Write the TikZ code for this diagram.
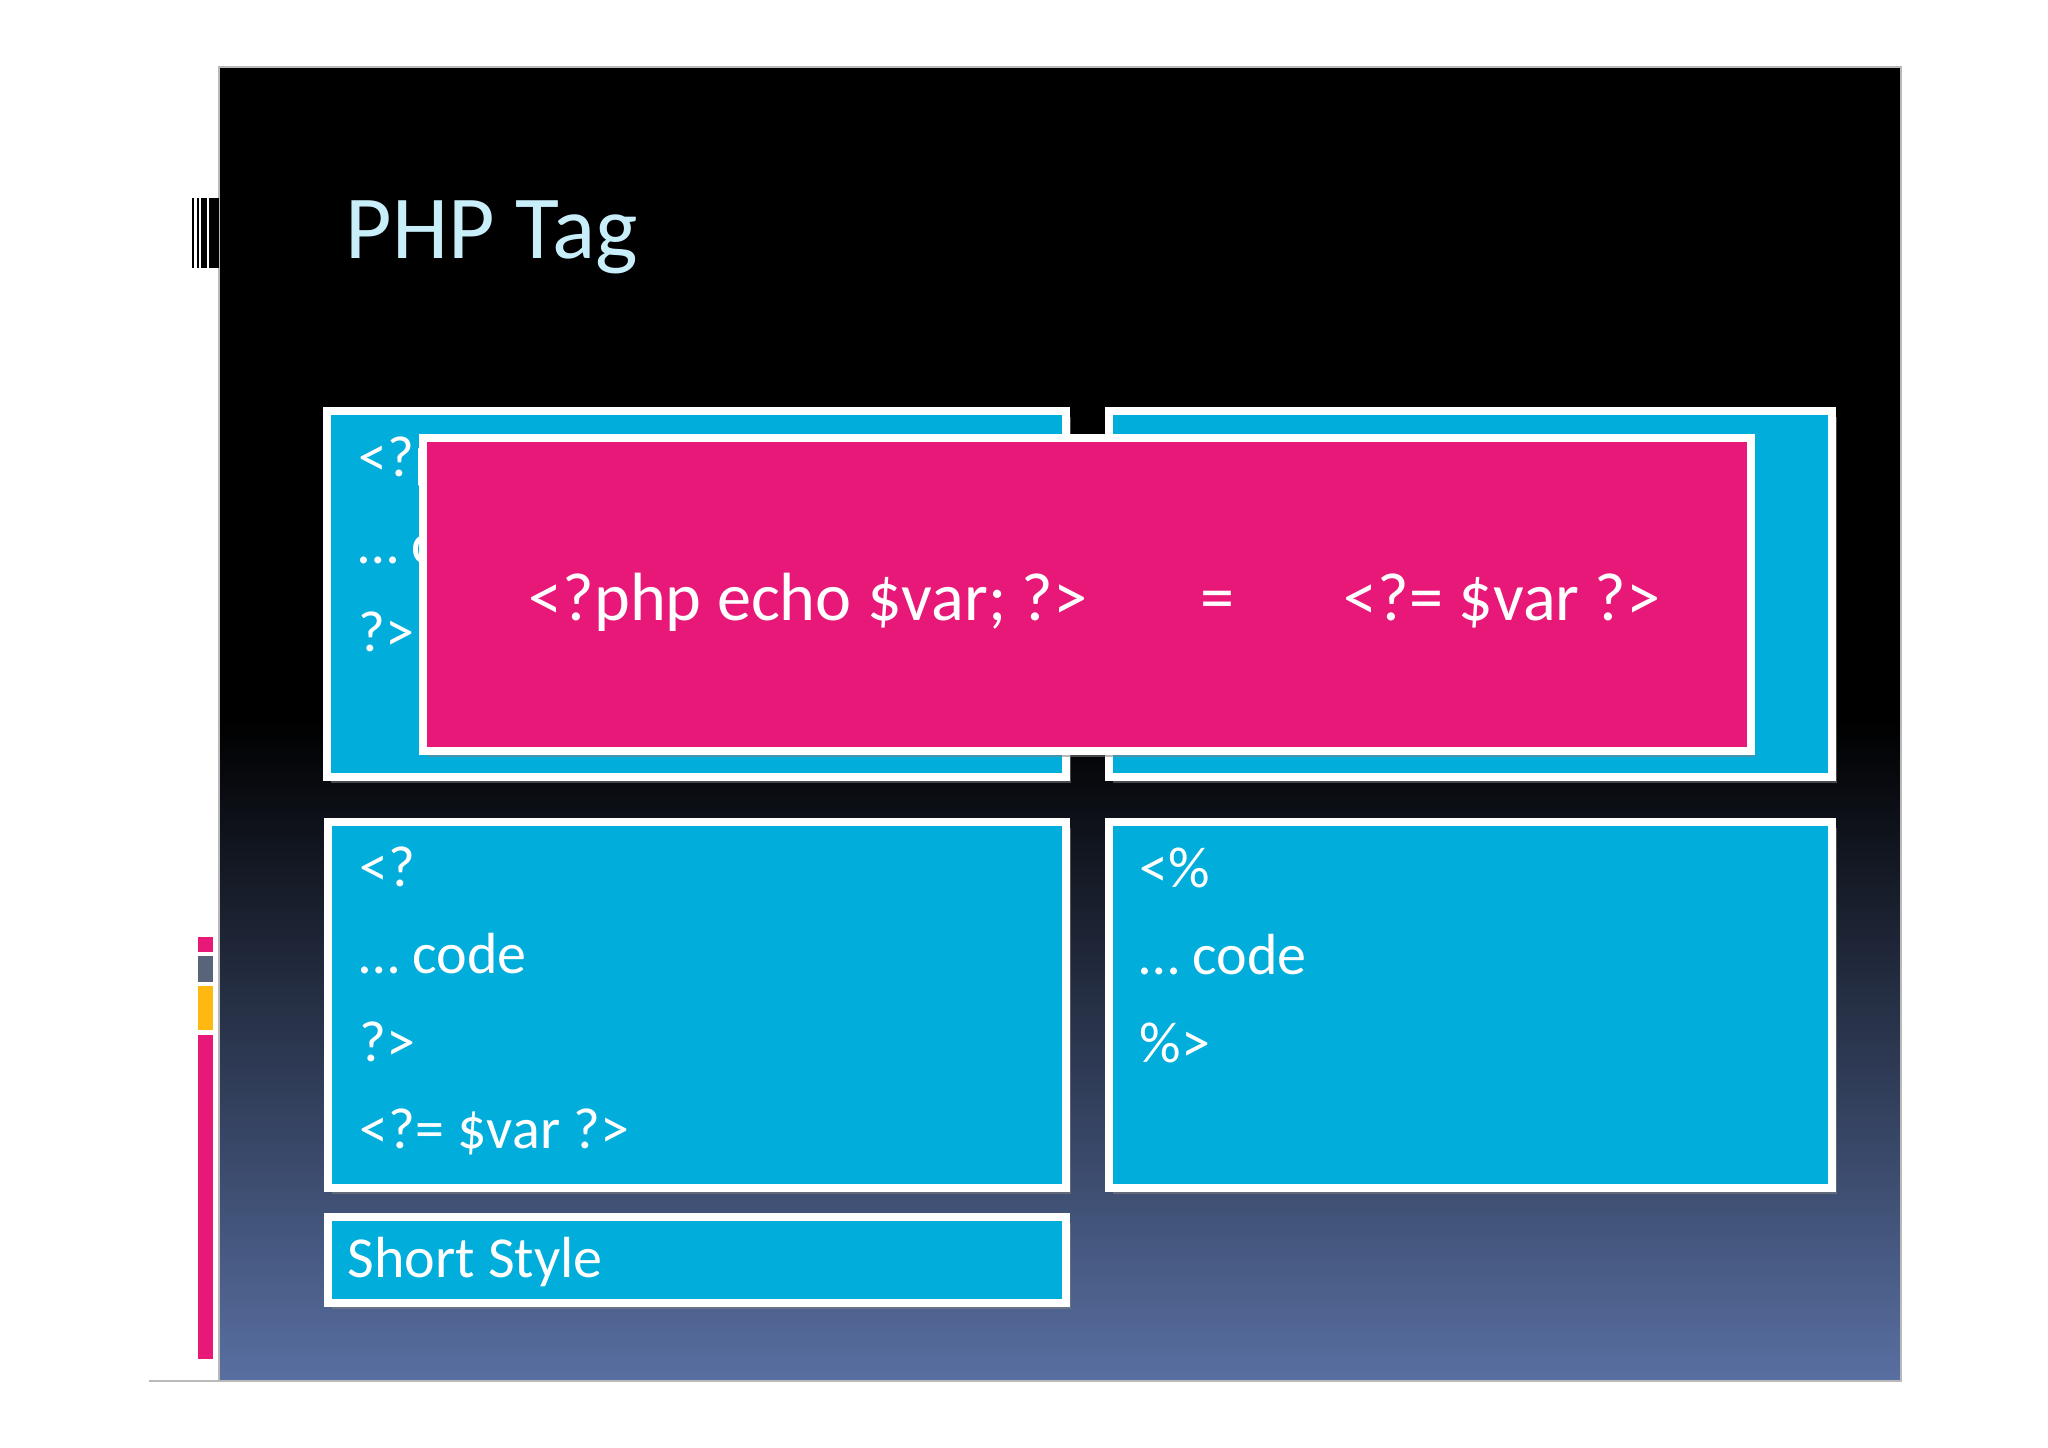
\documentclass[tikz,border=0pt]{standalone}
\usepackage{fontspec}
\setmainfont{Carlito}
\usepackage{xcolor}
\usepackage{tikz}
\usetikzlibrary{positioning,calc,shadows}

\definecolor{slidecyan}{RGB}{0,173,219}
\definecolor{slidepink}{RGB}{232,24,121}
\definecolor{titleblue}{RGB}{200,238,250}
\definecolor{slidebase}{RGB}{88,111,161}
\definecolor{bargold}{RGB}{255,183,18}
\definecolor{bargrey}{RGB}{88,100,122}

\tikzset{
    codebox/.style={draw=white, line width=0.08cm, fill=slidecyan, anchor=north west,
        inner sep=0pt, drop shadow={opacity=0.55, shadow xshift=1.2pt, shadow yshift=-1.6pt}},
    pinkbox/.style={codebox, fill=slidepink},
    codeline/.style={text=white, inner sep=0pt, anchor=base west,
        font=\fontsize{16.5}{20}\selectfont},
    pinkline/.style={codeline, font=\fontsize{19.4}{23}\selectfont}
}

\begin{document}
\begin{tikzpicture}[x=0.01cm, y=-0.01cm]
    \useasboundingbox (0,0) rectangle (2048,1447);

    % Slide background
    \fill[black] (219,67) rectangle (1901,1381);
    \shade[top color=black, bottom color=slidebase] (219,720) rectangle (1901,1381);
    \draw[gray!55, line width=0.5pt] (219,67) rectangle (1901,1381);
    \draw[gray!55, line width=0.5pt] (149,1381) -- (219,1381);

    % Left side marks
    \foreach \a/\b in {192/194, 197/198.7, 200.7/206.7, 209/218.7}
        \fill[black] (\a,198) rectangle (\b,268);
    \fill[slidepink] (198,937) rectangle (213,952);
    \fill[bargrey] (198,956) rectangle (213,982);
    \fill[bargold] (198,986) rectangle (213,1030);
    \fill[slidepink] (198,1035) rectangle (213,1359);

    % Title
    \node[text=titleblue, inner sep=0pt, anchor=base west,
        font=\fontsize{25.6}{30}\selectfont] (title) at (345,258) {PHP Tag};

    % Top boxes
    \node[codebox, minimum width=7.39cm, minimum height=3.66cm] (tl) at (323,407) {};
    \foreach \i/\t in {0/{<?php}, 1/{… code}, 2/{?>}}
        \node[codeline] (tl\i) at ($(tl.north west)+(35,{69+87.5*\i})$) {\t};
    \node[codebox, minimum width=7.23cm, minimum height=3.66cm] (tr) at (1105,407) {};

    % Echo shortcut
    \node[pinkbox, minimum width=13.27cm, minimum height=3.13cm] (echo) at (419,434) {};
    \node[pinkline] (longecho) at ($(echo.north west)+(109,186)$) {<?php echo \$var; ?>};
    \node[pinkline, anchor=base] (eq) at ($(echo.north west)+(798,186)$) {=};
    \node[pinkline] (shortecho) at ($(echo.north west)+(924,186)$) {<?= \$var ?>};

    % Bottom boxes
    \node[codebox, minimum width=7.38cm, minimum height=3.66cm] (bl) at (324,818) {};
    \foreach \i/\t in {0/{<?}, 1/{… code}, 2/{?>}, 3/{<?= \$var ?>}}
        \node[codeline] (bl\i) at ($(bl.north west)+(35,{68+87.5*\i})$) {\t};
    \node[codebox, minimum width=7.23cm, minimum height=3.66cm] (br) at (1105,818) {};
    \foreach \i/\t in {0/{<\%}, 1/{… code}, 2/{\%>}}
        \node[codeline] (br\i) at ($(br.north west)+(34,{69+87.5*\i})$) {\t};

    % Caption
    \node[codebox, minimum width=7.38cm, minimum height=0.86cm] (short) at (324,1213) {};
    \node[codeline] (shortlbl) at ($(short.north west)+(23,64)$) {Short Style};
\end{tikzpicture}
\end{document}
